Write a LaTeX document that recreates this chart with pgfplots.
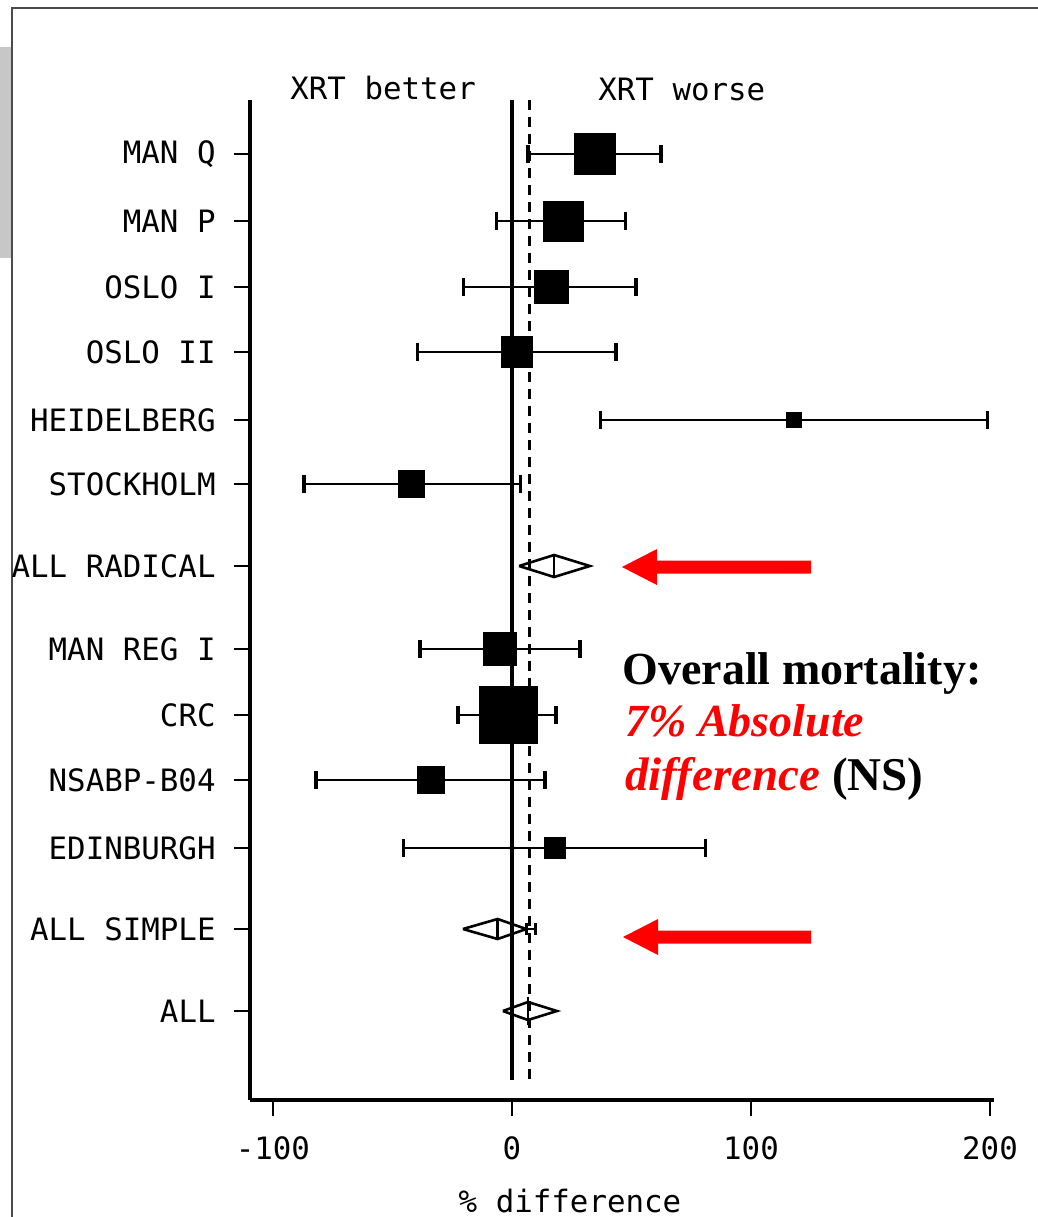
\documentclass[border=0pt]{standalone}
\usepackage{pgfplots}
\pgfplotsset{compat=1.18}
\usepackage{fontspec}
\setmainfont{Liberation Serif}
\newfontfamily\plotfont{DejaVu Sans Mono}
\newcommand\pf{\plotfont\fontsize{15.4}{18}\selectfont}
\definecolor{arrowred}{RGB}{255,0,0}
\begin{document}
\begin{tikzpicture}
\begin{scope}[x=0.5pt,y=-0.5pt]
\useasboundingbox (0,0) rectangle (1038,1217);
\fill[black!22] (0,47) rectangle (12,258);
\draw[black!70, line width=0.8pt] (12,1217) -- (12,8) -- (1038,8);
\end{scope}
\begin{axis}[
  at={(125pt,-550pt)}, anchor=south west,
  scale only axis, width=371.8pt, height=500pt,
  xmin=-109.6, xmax=201.5, ymin=-1100, ymax=-100,
  axis lines=left,
  axis line style={-, line width=1.6pt, black},
  xtick={-100,0,100,200},
  xticklabels={-100,0,100,200},
  ytick={-1011,-929,-848,-780,-715,-649,-566,-484,-420,-352,-287,-221,-154},
  yticklabels={ALL, ALL SIMPLE, EDINBURGH, NSABP-B04, CRC, MAN REG I, ALL RADICAL, STOCKHOLM, HEIDELBERG, OSLO II, OSLO I, MAN P, MAN Q},
  tick align=outside,
  major tick length=8pt,
  tick style={line width=1.4pt, black},
  ticklabel style={font=\pf, inner sep=0pt},
  xticklabel shift=10pt,
  yticklabel shift=9pt,
  clip=false,
]
% reference lines
\addplot[black, line width=1.6pt] coordinates {(0,-100) (0,-1080)};
\addplot[black, line width=1.5pt, dash pattern=on 5pt off 3.5pt] coordinates {(7.5,-100) (7.5,-1080)};

% confidence intervals
\addplot[black, line width=1.3pt, mark=|, mark size=4.6pt, mark options={line width=1.8pt}] coordinates {(6.8,-154) (62.4,-154)};
\addplot[black, line width=1.3pt, mark=|, mark size=4.6pt, mark options={line width=1.8pt}] coordinates {(-6.5,-221) (47.5,-221)};
\addplot[black, line width=1.3pt, mark=|, mark size=4.6pt, mark options={line width=1.8pt}] coordinates {(-20.2,-287) (51.8,-287)};
\addplot[black, line width=1.3pt, mark=|, mark size=4.6pt, mark options={line width=1.8pt}] coordinates {(-39.5,-352) (43.5,-352)};
\addplot[black, line width=1pt, mark=|, mark size=4.6pt, mark options={line width=1.6pt}] coordinates {(37,-420) (199,-420)};
\addplot[black, line width=1.1pt, mark=|, mark size=4.6pt, mark options={line width=1.6pt}] coordinates {(-87,-484) (3.5,-484)};
\addplot[black, line width=1.3pt, mark=|, mark size=4.6pt, mark options={line width=1.8pt}] coordinates {(-38.5,-649) (28.5,-649)};
\addplot[black, line width=1.3pt, mark=|, mark size=4.6pt, mark options={line width=1.8pt}] coordinates {(-22.5,-715) (18.5,-715)};
\addplot[black, line width=1.1pt, mark=|, mark size=4.6pt, mark options={line width=1.6pt}] coordinates {(-82,-780) (13.8,-780)};
\addplot[black, line width=1pt, mark=|, mark size=4.6pt, mark options={line width=1.6pt}] coordinates {(-45.5,-848) (81,-848)};

% point estimates
\addplot[only marks, mark=square*, mark size=10.3pt, black] coordinates {(34.8,-154)};
\addplot[only marks, mark=square*, mark size=10pt, black] coordinates {(21.5,-221)};
\addplot[only marks, mark=square*, mark size=8.4pt, black] coordinates {(16.5,-287)};
\addplot[only marks, mark=square*, mark size=7.6pt, black] coordinates {(2,-352)};
\addplot[only marks, mark=square*, mark size=3.7pt, black] coordinates {(118,-420)};
\addplot[only marks, mark=square*, mark size=6.6pt, black] coordinates {(-42,-484)};
\addplot[only marks, mark=square*, mark size=8.4pt, black] coordinates {(-5,-649)};
\addplot[only marks, mark=square*, mark size=14.3pt, black] coordinates {(-1.5,-715)};
\addplot[only marks, mark=square*, mark size=6.6pt, black] coordinates {(-34,-780)};
\addplot[only marks, mark=square*, mark size=5.2pt, black] coordinates {(18,-848)};

% pooled diamonds
\addplot[black, line width=1.3pt] coordinates {(3,-566) (17.6,-555) (32.6,-566) (17.6,-577) (3,-566)};
\addplot[black, line width=1.3pt] coordinates {(17.6,-555) (17.6,-577)};
\addplot[black, line width=1.3pt] coordinates {(-20.5,-929) (-6,-919) (6,-929) (-6,-939) (-20.5,-929)};
\addplot[black, line width=1.3pt] coordinates {(-6,-919) (-6,-939)};
\addplot[black, line width=1.4pt, mark=|, mark size=3pt] coordinates {(6,-929) (10,-929)};
\addplot[black, line width=1.3pt] coordinates {(-3.8,-1011) (6.7,-1002) (18.8,-1011) (6.7,-1020) (-3.8,-1011)};
\addplot[black, line width=1.3pt] coordinates {(6.7,-997) (6.7,-1025)};
\end{axis}
\begin{scope}[x=0.5pt,y=-0.5pt]
\node[anchor=base west, inner sep=0pt, font=\pf] at (290,99) {XRT better};
\node[anchor=base west, inner sep=0pt, font=\pf] at (598,100) {XRT worse};
\node[anchor=base, inner sep=0pt, font=\pf] at (570,1212) {\% difference};
\fill[arrowred] (622,567) -- (657,549) -- (657,560.5) -- (811,560.5) -- (811,573.5) -- (657,573.5) -- (657,585) -- cycle;
\fill[arrowred] (623,937) -- (658,919) -- (658,930.5) -- (811,930.5) -- (811,943.5) -- (658,943.5) -- (658,955) -- cycle;
\node[anchor=base west, inner sep=0pt, font=\fontsize{23}{26}\selectfont\bfseries] at (622,684) {Overall mortality:};
\node[anchor=base west, inner sep=0pt, font=\fontsize{23}{26}\selectfont\bfseries\itshape, text=arrowred] at (625,736) {7\% Absolute};
\node[anchor=base west, inner sep=0pt, font=\fontsize{23.5}{26}\selectfont\bfseries] at (625,790) {\textcolor{arrowred}{\itshape difference} (NS)};
\end{scope}
\end{tikzpicture}
\end{document}
